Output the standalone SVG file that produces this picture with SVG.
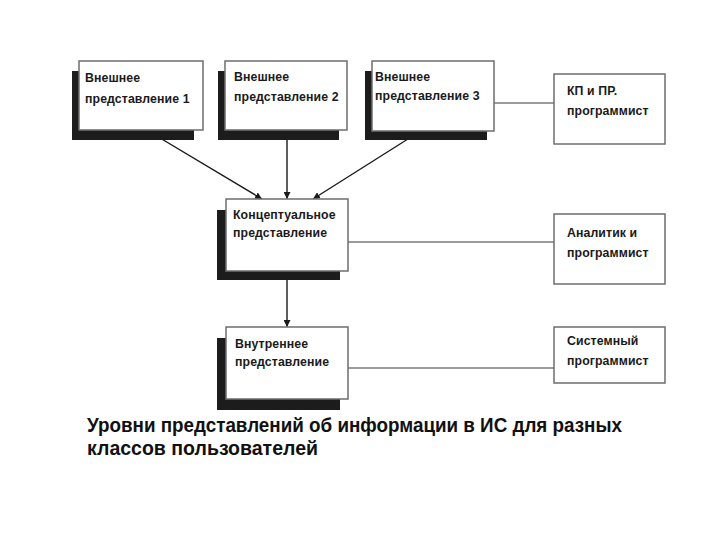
<svg xmlns="http://www.w3.org/2000/svg" width="720" height="540" viewBox="0 0 720 540">
  <defs>
    <style>
      .shadow { fill: #1c1c1c; }
      .box { fill: #ffffff; stroke: #6e6e6e; stroke-width: 1.5; }
      .lbl { font-family: "Liberation Sans", Arial, sans-serif; font-size: 12.3px; font-weight: bold; fill: #1a1a1a; letter-spacing: 0.1px; }
      .cap { font-family: "Liberation Sans", Arial, sans-serif; font-size: 19.5px; font-weight: bold; fill: #111111; }
      .arrow { stroke: #1a1a1a; stroke-width: 1.4; fill: none; marker-end: url(#ah); }
      .link { stroke: #7a7a7a; stroke-width: 1.6; fill: none; }
    </style>
    <marker id="ah" viewBox="0 0 10 10" refX="10" refY="5" markerWidth="7" markerHeight="7" markerUnits="userSpaceOnUse" orient="auto">
      <path d="M0,0 L10,5 L0,10 Z" fill="#1a1a1a"/>
    </marker>
  </defs>
  <rect width="720" height="540" fill="#ffffff"/>

  <g id="connectors">
    <line class="arrow" x1="150" y1="132" x2="262" y2="199"/>
    <line class="arrow" x1="287" y1="130" x2="287" y2="199"/>
    <line class="arrow" x1="419" y1="132" x2="313" y2="199"/>
    <line class="arrow" x1="287" y1="271" x2="287" y2="327"/>
    <line class="link" x1="494" y1="103" x2="554" y2="103"/>
    <line class="link" x1="348" y1="242" x2="554" y2="242"/>
    <line class="link" x1="348" y1="368" x2="554" y2="368"/>
  </g>

  <g id="ext1">
    <rect class="shadow" x="72" y="71" width="122" height="69"/>
    <rect class="box" x="79" y="61" width="124" height="69"/>
    <text class="lbl" x="85" y="82">Внешнее</text>
    <text class="lbl" x="85" y="103">представление 1</text>
  </g>

  <g id="ext2">
    <rect class="shadow" x="218" y="71" width="121" height="69"/>
    <rect class="box" x="225" y="61" width="122" height="69"/>
    <text class="lbl" x="234" y="81">Внешнее</text>
    <text class="lbl" x="234" y="101">представление 2</text>
  </g>

  <g id="ext3">
    <rect class="shadow" x="365" y="71" width="122" height="69"/>
    <rect class="box" x="372" y="61" width="122" height="70"/>
    <text class="lbl" x="375" y="81">Внешнее</text>
    <text class="lbl" x="375" y="100">представление 3</text>
  </g>

  <g id="kp">
    <rect class="box" x="554" y="74" width="111" height="70"/>
    <text class="lbl" x="567" y="95">КП и ПР.</text>
    <text class="lbl" x="567" y="115">программист</text>
  </g>

  <g id="conceptual">
    <rect class="shadow" x="217" y="210" width="123" height="70"/>
    <rect class="box" x="226" y="199" width="122" height="72"/>
    <text class="lbl" x="233" y="219">Концептуальное</text>
    <text class="lbl" x="233" y="237">представление</text>
  </g>

  <g id="analyst">
    <rect class="box" x="554" y="214" width="111" height="70"/>
    <text class="lbl" x="567" y="237">Аналитик и</text>
    <text class="lbl" x="567" y="257">программист</text>
  </g>

  <g id="internal">
    <rect class="shadow" x="217" y="338" width="123" height="72"/>
    <rect class="box" x="226" y="327" width="122" height="72"/>
    <text class="lbl" x="235" y="348">Внутреннее</text>
    <text class="lbl" x="235" y="366">представление</text>
  </g>

  <g id="sysprog">
    <rect class="box" x="554" y="327" width="111" height="56"/>
    <text class="lbl" x="567" y="345">Системный</text>
    <text class="lbl" x="567" y="365">программист</text>
  </g>

  <g id="caption">
    <text class="cap" x="87" y="432" textLength="535" lengthAdjust="spacingAndGlyphs">Уровни представлений об информации в ИС для разных</text>
    <text class="cap" x="87" y="455" textLength="231" lengthAdjust="spacingAndGlyphs">классов пользователей</text>
  </g>
</svg>
